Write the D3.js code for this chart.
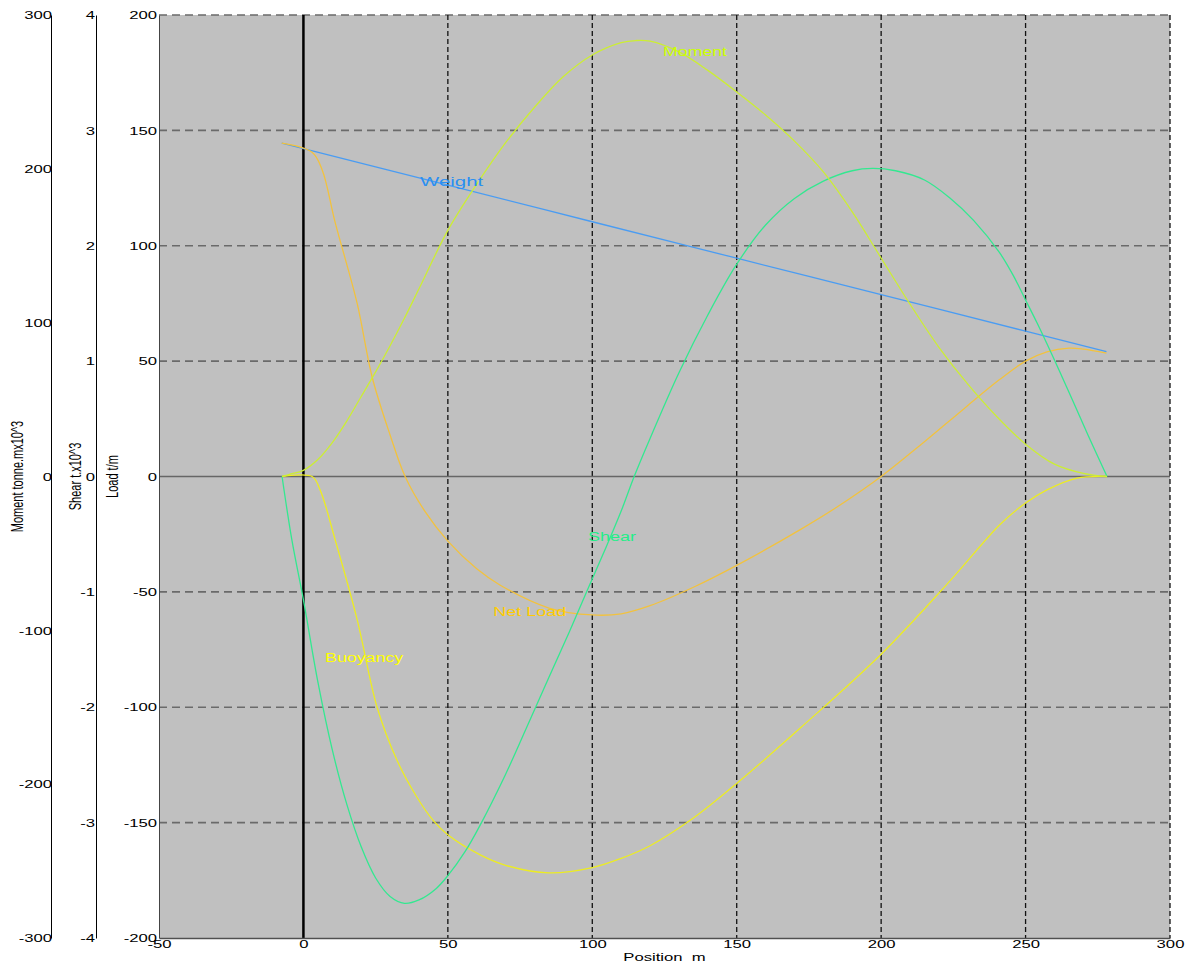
<!DOCTYPE html>
<html><head><meta charset="utf-8">
<script src="https://cdn.jsdelivr.net/npm/d3@7"></script>
<style>
body{margin:0;background:#fff;}
svg{display:block;font-family:"Liberation Sans",Arial,sans-serif;}
</style></head><body>
<svg id="chart" width="1192" height="964"></svg>
<script>
// Longitudinal strength curves along the hull:
// load (t/m), shear force (t x10^3) and bending moment (tonne.m x10^3) against position (m).

// Weight distribution, t/m
const weightPos  = [-7.5, 50, 100, 150, 200, 250, 278];
const weightLoad = [144.5, 126.3, 110.4, 94.6, 78.8, 63.0, 54.1];

// Buoyancy, t/m (acts upward, plotted negative)
const buoyPos  = [-7.4, 3, 5.8, 11, 18.6, 25.5, 32.4, 39.3, 44.9, 50.1, 61.2, 70, 85, 100, 110, 120, 135, 150, 172, 200, 224, 241, 250, 257.4, 267.8, 278.2];
const buoyLoad = [0, 0, -5.9, -27.5, -62, -100, -123, -139, -149, -155.4, -164, -168.5, -171.8, -169.5, -165.5, -160, -148, -133, -109, -77, -45, -21, -11.5, -5.8, -0.7, 0];

// Net load, t/m
const netPos  = [-7.5, 3, 6.5, 11, 18.6, 23.8, 30, 35.2, 42, 50, 60, 68, 85, 100, 110, 120, 135, 150, 172, 185, 200, 212, 224, 241, 250, 257.4, 265, 270, 278];
const netLoad = [144.5, 140.5, 132.8, 110, 75, 43, 18, 0, -15, -28, -40, -47, -57, -60, -59.5, -56, -48, -38.5, -23, -13, 0, 12, 24.5, 42, 50, 54, 55.6, 55.2, 53.5];

// Shear force, t x10^3
const shearPos = [-7.4, -4, 0, 5, 10, 15, 20, 25, 30, 35, 40, 46, 50, 56, 61, 70, 77, 85, 92, 98.2, 105, 110, 114.5, 120, 130, 140, 150, 160, 170, 180, 190, 197, 205, 215, 224, 232, 241, 246, 250, 254, 262, 271.6, 278.2];
const shearVal = [0, -0.55, -1.07, -1.78, -2.37, -2.84, -3.21, -3.48, -3.64, -3.70, -3.67, -3.57, -3.46, -3.25, -3.03, -2.58, -2.19, -1.74, -1.35, -0.99, -0.6, -0.3, 0, 0.33, 0.9, 1.4, 1.84, 2.18, 2.41, 2.56, 2.65, 2.67, 2.65, 2.57, 2.41, 2.22, 1.94, 1.73, 1.53, 1.33, 0.9, 0.36, 0];

// Bending moment, tonne.m x10^3
const momentPos = [-7.4, -4.6, 0, 5, 10, 15, 20, 25, 30, 35, 40, 50, 60, 70, 80, 90, 100, 110, 115, 120, 130, 140, 150, 160, 170, 180, 190, 200, 210, 220, 230, 240, 250, 260, 270, 278.2];
const momentVal = [0, 1.5, 4, 11, 22, 36, 52, 68, 85, 103, 122, 160, 190, 217, 240, 260, 274, 282, 283.4, 283, 276, 264, 250, 235, 218, 198, 172, 142, 112, 84, 60, 39, 21, 8, 2, 0];

// Axis tick values
const positionTicks = [-50, 0, 50, 100, 150, 200, 250, 300];
const loadTicks     = [-200, -150, -100, -50, 0, 50, 100, 150, 200];
const shearTicks    = [-4, -3, -2, -1, 0, 1, 2, 3, 4];
const momentTicks   = [-300, -200, -100, 0, 100, 200, 300];

const plot = {left: 159, right: 1170, top: 15, bottom: 938};
const STRETCH = 1.45;   // wide lettering used for all horizontal text
const FONT = '"Liberation Sans", Arial, sans-serif';

const x       = d3.scaleLinear().domain([-50, 300]).range([plot.left, plot.right]);
const yLoad   = d3.scaleLinear().domain([-200, 200]).range([plot.bottom, plot.top]);
const yShear  = d3.scaleLinear().domain([-4, 4]).range([plot.bottom, plot.top]);
const yMoment = d3.scaleLinear().domain([-300, 300]).range([plot.bottom, plot.top]);

const svg = d3.select("#chart");

// plot background
svg.append("rect")
  .attr("x", plot.left).attr("y", plot.top)
  .attr("width", plot.right - plot.left).attr("height", plot.bottom - plot.top)
  .attr("fill", "#c0c0c0");

// horizontal grid (load scale)
svg.append("g").selectAll("line")
  .data(loadTicks.filter(v => v !== 0 && v !== -200))
  .join("line")
  .attr("x1", plot.left).attr("x2", plot.right)
  .attr("y1", d => yLoad(d)).attr("y2", d => yLoad(d))
  .attr("stroke", "#6a6a6a").attr("stroke-width", 1.6)
  .attr("stroke-dasharray", "8,5");

// vertical grid
svg.append("g").selectAll("line")
  .data(positionTicks.filter(v => v > 0))
  .join("line")
  .attr("x1", d => x(d)).attr("x2", d => x(d))
  .attr("y1", plot.top).attr("y2", plot.bottom)
  .attr("stroke", "#111").attr("stroke-width", 1.3)
  .attr("stroke-dasharray", "5,3");

// zero load line
svg.append("line")
  .attr("x1", plot.left).attr("x2", plot.right)
  .attr("y1", yLoad(0)).attr("y2", yLoad(0))
  .attr("stroke", "#666").attr("stroke-width", 1.5);

// aft perpendicular at position 0
svg.append("line")
  .attr("x1", x(0)).attr("x2", x(0))
  .attr("y1", plot.top).attr("y2", plot.bottom)
  .attr("stroke", "#000").attr("stroke-width", 2.5);

// curves
const curves = [
  {pos: weightPos, val: weightLoad, y: yLoad,   color: "#4a9cf2"},
  {pos: netPos,    val: netLoad,    y: yLoad,   color: "#f2c23e"},
  {pos: buoyPos,   val: buoyLoad,   y: yLoad,   color: "#ecec22"},
  {pos: shearPos,  val: shearVal,   y: yShear,  color: "#33e890"},
  {pos: momentPos, val: momentVal,  y: yMoment, color: "#ccee33"}
];
curves.forEach(c => {
  const pts = c.pos.map((p, i) => [p, c.val[i]]);
  svg.append("path")
    .datum(pts)
    .attr("fill", "none")
    .attr("stroke", c.color)
    .attr("stroke-width", 1.3)
    .attr("d", d3.line().x(d => x(d[0])).y(d => c.y(d[1])).curve(d3.curveCatmullRom.alpha(0.5)));
});

// curve labels (anchor = left end of baseline, in position / load units)
const curveLabels = [
  {text: "Weight",   at: [40.4, 125.9],  width: 63, color: "#2a8ff2"},
  {text: "Moment",   at: [124.5, 182.2], width: 64, color: "#ccff00"},
  {text: "Shear",    at: [98.5, -28.0],  width: 48, color: "#22ee88"},
  {text: "Net Load", at: [65.7, -60.5],  width: 73, color: "#ffcc00"},
  {text: "Buoyancy", at: [7.5, -80.4],   width: 78, color: "#ffff00"}
];
svg.append("g").selectAll("text")
  .data(curveLabels)
  .join("text")
  .attr("x", d => x(d.at[0])).attr("y", d => yLoad(d.at[1]))
  .attr("textLength", d => d.width)
  .attr("lengthAdjust", "spacingAndGlyphs")
  .attr("font-family", FONT).attr("font-size", 12.5)
  .attr("fill", d => d.color)
  .text(d => d.text);

// axes
const fmt = d => String(d);
function styleAxis(g, pad, domainColor) {
  g.attr("font-family", FONT).attr("font-size", 11.5);
  g.select(".domain").attr("stroke", domainColor);
  g.selectAll(".tick text")
    .attr("fill", "#000")
    .attr("x", -pad / STRETCH)
    .attr("transform", `scale(${STRETCH},1)`);
}

const momentAxis = svg.append("g")
  .attr("transform", "translate(51,0)")
  .call(d3.axisLeft(yMoment).tickValues(momentTicks).tickFormat(fmt).tickSize(0).tickSizeOuter(0).tickPadding(0));
styleAxis(momentAxis, -1, "#000");

const shearAxis = svg.append("g")
  .attr("transform", "translate(96,0)")
  .call(d3.axisLeft(yShear).tickValues(shearTicks).tickFormat(fmt).tickSize(0).tickSizeOuter(0).tickPadding(0));
styleAxis(shearAxis, 1, "#000");

const loadAxis = svg.append("g")
  .attr("transform", `translate(${plot.left},0)`)
  .call(d3.axisLeft(yLoad).tickValues(loadTicks).tickFormat(fmt).tickSize(0).tickSizeOuter(0).tickPadding(0));
styleAxis(loadAxis, 2, "#444");

const xAxis = svg.append("g")
  .attr("transform", `translate(0,${plot.bottom})`)
  .call(d3.axisBottom(x).tickValues(positionTicks).tickFormat(fmt).tickSize(0).tickSizeOuter(0).tickPadding(2));
xAxis.attr("font-family", FONT).attr("font-size", 11.5);
xAxis.select(".domain").attr("stroke", "#505050").attr("stroke-width", 1.5);
xAxis.selectAll(".tick text").attr("fill", "#000").attr("transform", `scale(${STRETCH},1)`);

// axis titles
const titles = [
  {text: "Moment tonne.mx10^3", x: 17.5},
  {text: "Shear t.x10^3",       x: 75},
  {text: "Load t/m",            x: 112.5}
];
svg.append("g").selectAll("text")
  .data(titles)
  .join("text")
  .attr("transform", d => `translate(${d.x},${yLoad(0)}) scale(${STRETCH},1) rotate(-90)`)
  .attr("text-anchor", "middle").attr("dy", "0.35em")
  .attr("font-family", FONT).attr("font-size", 11)
  .attr("fill", "#000")
  .text(d => d.text);

svg.append("text")
  .attr("transform", `translate(${(plot.left + plot.right) / 2},961) scale(${STRETCH},1)`)
  .attr("text-anchor", "middle")
  .attr("font-family", FONT).attr("font-size", 11.5)
  .attr("fill", "#000")
  .style("white-space", "pre")
  .text("Position  m");
</script>
</body></html>
